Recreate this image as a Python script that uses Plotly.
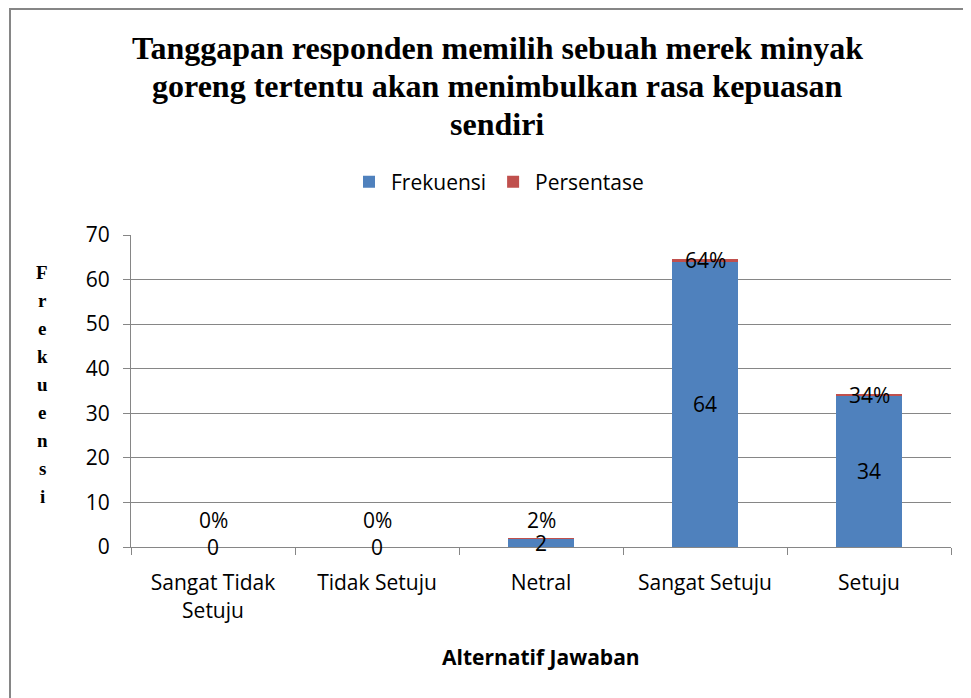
import plotly.graph_objects as go

categories = ["Sangat Tidak<br>Setuju", "Tidak Setuju", "Netral", "Sangat Setuju", "Setuju"]
frekuensi = [0, 0, 2, 64, 34]
persentase = [0.0, 0.0, 0.02, 0.64, 0.34]
persen_labels = ["0%", "0%", "2%", "64%", "34%"]
y_ticks = [0, 10, 20, 30, 40, 50, 60, 70]
title_lines = ["Tanggapan responden memilih sebuah merek minyak",
               "goreng tertentu akan menimbulkan rasa kepuasan",
               "sendiri"]
y_title = "Frekuensi"
x_title = "Alternatif Jawaban"

OFF = 8  # page body margin
W, H = 971 - OFF, 698 - OFF
L, T = 131 - OFF, 235 - OFF
pw, ph = 820, 312
R, B = W - L - pw, H - T - ph


def px_x(x):
    return (x - OFF - L) / pw


def px_y(y):
    return (H - B - (y - OFF)) / ph


SANS = "'Open Sans', 'Noto Sans', sans-serif"
SERIF = "'Liberation Serif', 'DejaVu Serif', serif"

fig = go.Figure()
fig.add_trace(go.Bar(
    name="Frekuensi", x=categories, y=frekuensi,
    marker=dict(color="#4F81BD", line=dict(width=0)),
    textposition="none",
))
fig.add_trace(go.Bar(
    name="Persentase", x=categories, y=persentase,
    marker=dict(color="#C0504D", line=dict(width=0)),
    textposition="none",
))

# data labels (Excel-style centered labels)
for c, f, p, pl in zip(categories, frekuensi, persentase, persen_labels):
    fig.add_annotation(x=c, y=f / 2, text=str(f), showarrow=False,
                       font=dict(family=SANS, size=21, color="black"),
                       xref="x", yref="y", yanchor="middle")
    fig.add_annotation(x=c, y=max(f + p / 2, 6), text=pl, showarrow=False,
                       font=dict(family=SANS, size=21, color="black"),
                       xref="x", yref="y", yanchor="middle")

# vertical stacked y-axis title letters
for i, ch in enumerate(y_title):
    fig.add_annotation(x=px_x(42), y=px_y(272 + i * 28), xref="paper", yref="paper",
                       text="<b>%s</b>" % ch, showarrow=False,
                       xanchor="center", yanchor="middle",
                       font=dict(family=SERIF, size=19, color="black"))

# title, one annotation per line
for i, line in enumerate(title_lines):
    fig.add_annotation(x=px_x(497), y=px_y(48 + i * 38), xref="paper", yref="paper",
                       text="<b>%s</b>" % line, showarrow=False,
                       xanchor="center", yanchor="middle",
                       font=dict(family=SERIF, size=32, color="black"))

# x-axis title
fig.add_annotation(x=0.5, y=px_y(657), xref="paper", yref="paper",
                   text="<b>%s</b>" % x_title, showarrow=False, yanchor="middle",
                   font=dict(family=SANS, size=21, color="black"))

# chart border (left + top visible)
fig.add_shape(type="line", xref="paper", yref="paper",
              x0=px_x(9), x1=px_x(990), y0=px_y(9), y1=px_y(9),
              line=dict(color="#868686", width=2))
fig.add_shape(type="line", xref="paper", yref="paper",
              x0=px_x(10), x1=px_x(10), y0=px_y(8), y1=px_y(720),
              line=dict(color="#868686", width=2))

fig.update_layout(
    width=W, height=H,
    margin=dict(l=L, r=R, t=T, b=B, autoexpand=False),
    barmode="stack", bargap=0.6,
    plot_bgcolor="white", paper_bgcolor="white",
    legend=dict(orientation="h", x=px_x(498), xanchor="center", y=px_y(182), yanchor="middle",
                xref="paper", yref="paper", font=dict(family=SANS, size=21, color="black"),
                itemwidth=34, traceorder="normal"),
    showlegend=True,
    xaxis=dict(type="category", showline=True, linecolor="#868686", linewidth=1,
               ticks="outside", tickson="boundaries", ticklen=7, tickcolor="#868686",
               ticklabelstandoff=17,
               tickfont=dict(family=SANS, size=21, color="black"), showgrid=False),
    yaxis=dict(range=[0, 70], tickvals=y_ticks, showline=True, linecolor="#868686",
               linewidth=1, ticks="outside", ticklen=7, tickcolor="#868686",
               gridcolor="#868686", gridwidth=1, zeroline=False, ticklabelstandoff=9,
               tickfont=dict(family=SANS, size=21, color="black")),
)

fig.write_html("out.html")
